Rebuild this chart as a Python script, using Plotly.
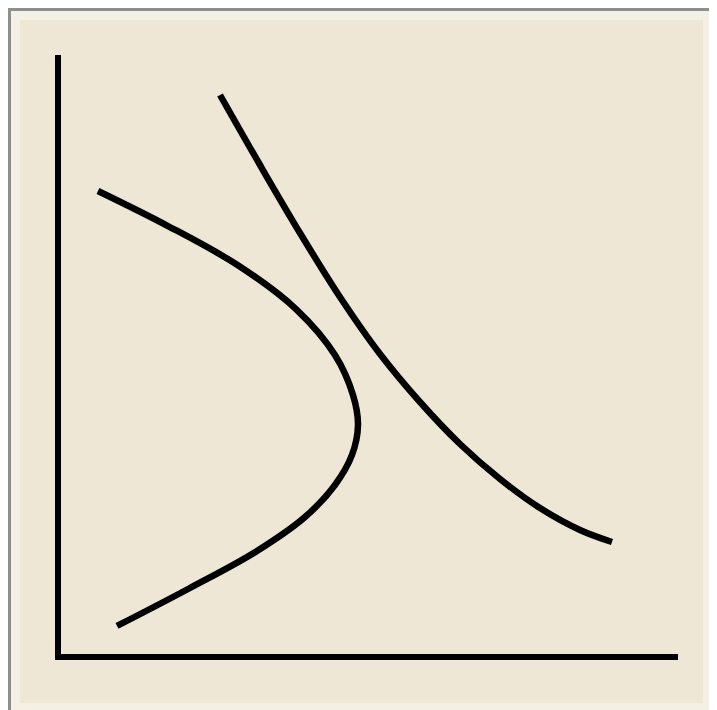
import plotly.graph_objects as go

# Curve A: sideways parabola-like curve (data units)
curve_a_x = [0.648, 1.783, 2.934, 3.874, 4.489, 4.781, 4.862, 4.765, 4.489, 4.003, 3.225, 2.139, 0.956]
curve_a_y = [7.767, 7.183, 6.517, 5.783, 5.033, 4.367, 3.867, 3.367, 2.867, 2.333, 1.767, 1.150, 0.517]

# Curve B: decreasing convex curve
curve_b_x = [2.626, 3.274, 3.922, 4.570, 5.219, 5.867, 6.515, 7.164, 7.812, 8.460, 8.979]
curve_b_y = [9.367, 8.200, 7.067, 6.000, 5.050, 4.250, 3.550, 2.967, 2.483, 2.117, 1.917]

W, H = 717, 710
OFF = 8  # page body margin
L, T = 50, 49
PW, PH = 617, 600
R, B = W - L - PW, H - T - PH


def px(x):
    return (x - OFF - L) / PW


def py(y):
    return (T + PH - (y - OFF)) / PH


fig = go.Figure()
for xs, ys in [(curve_a_x, curve_a_y), (curve_b_x, curve_b_y)]:
    fig.add_trace(go.Scatter(x=xs, y=ys, mode="lines",
                             line=dict(color="black", width=6.5, shape="spline", smoothing=1.0),
                             hoverinfo="skip", showlegend=False))

shapes = [
    # outer grey frame with light inner strip
    dict(type="rect", xref="paper", yref="paper", layer="below",
         x0=px(9.5), x1=px(714.5), y0=py(716), y1=py(9.5),
         line=dict(color="#8E8E8E", width=3), fillcolor="#F4F0E4"),
    # beige panel
    dict(type="rect", xref="paper", yref="paper", layer="below",
         x0=px(20), x1=px(703), y0=py(703), y1=py(20),
         line=dict(width=0), fillcolor="#EEE7D6"),
    # vertical axis
    dict(type="line", xref="paper", yref="paper",
         x0=px(58), x1=px(58), y0=py(660), y1=py(55),
         line=dict(color="black", width=6)),
    # horizontal axis
    dict(type="line", xref="paper", yref="paper",
         x0=px(55), x1=px(678), y0=py(657), y1=py(657),
         line=dict(color="black", width=6)),
]

fig.update_layout(
    width=W, height=H,
    margin=dict(l=L, r=R, t=T, b=B),
    paper_bgcolor="#F4F0E4",
    plot_bgcolor="rgba(0,0,0,0)",
    showlegend=False,
    shapes=shapes,
    xaxis=dict(range=[0, 10], visible=False, showgrid=False, zeroline=False),
    yaxis=dict(range=[0, 10], visible=False, showgrid=False, zeroline=False),
)

fig.write_html("out.html")
